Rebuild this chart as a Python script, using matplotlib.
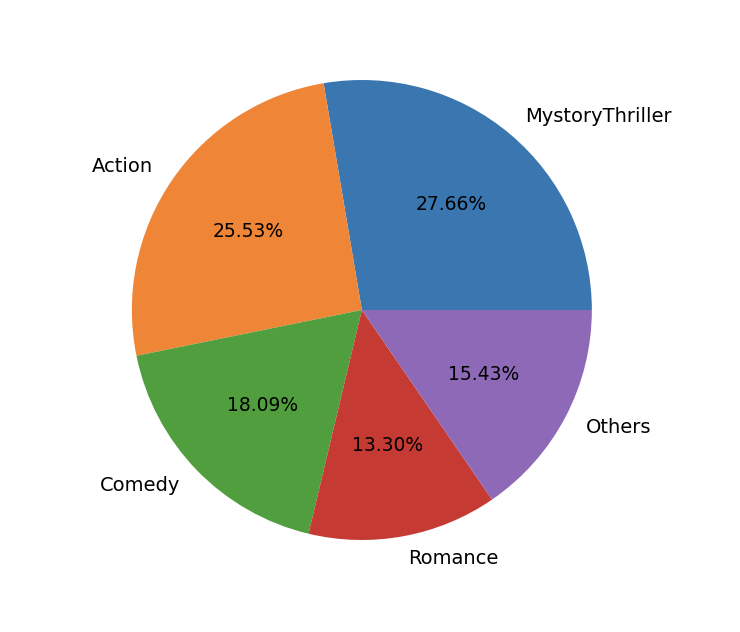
import matplotlib.pyplot as plt

# genre counts
genres = ['MystoryThriller', 'Action', 'Comedy', 'Romance', 'Others']
counts = [52, 48, 34, 25, 29]
colors = ['#3a76af', '#ef8536', '#519e3e', '#c53a32', '#8d69b8']

fig = plt.figure(figsize=(7.4, 6.32), dpi=100)
ax = fig.add_axes([0.489 - 0.3885, 0.5095 - 0.455, 0.777, 0.91])
wedges, texts, autotexts = ax.pie(counts, labels=genres, colors=colors,
                                  autopct='%.2f%%', textprops={'fontsize': 13.5})
for t in texts:
    t.set_fontsize(14)
ax.set_aspect('equal')
fig.savefig('out.png')
